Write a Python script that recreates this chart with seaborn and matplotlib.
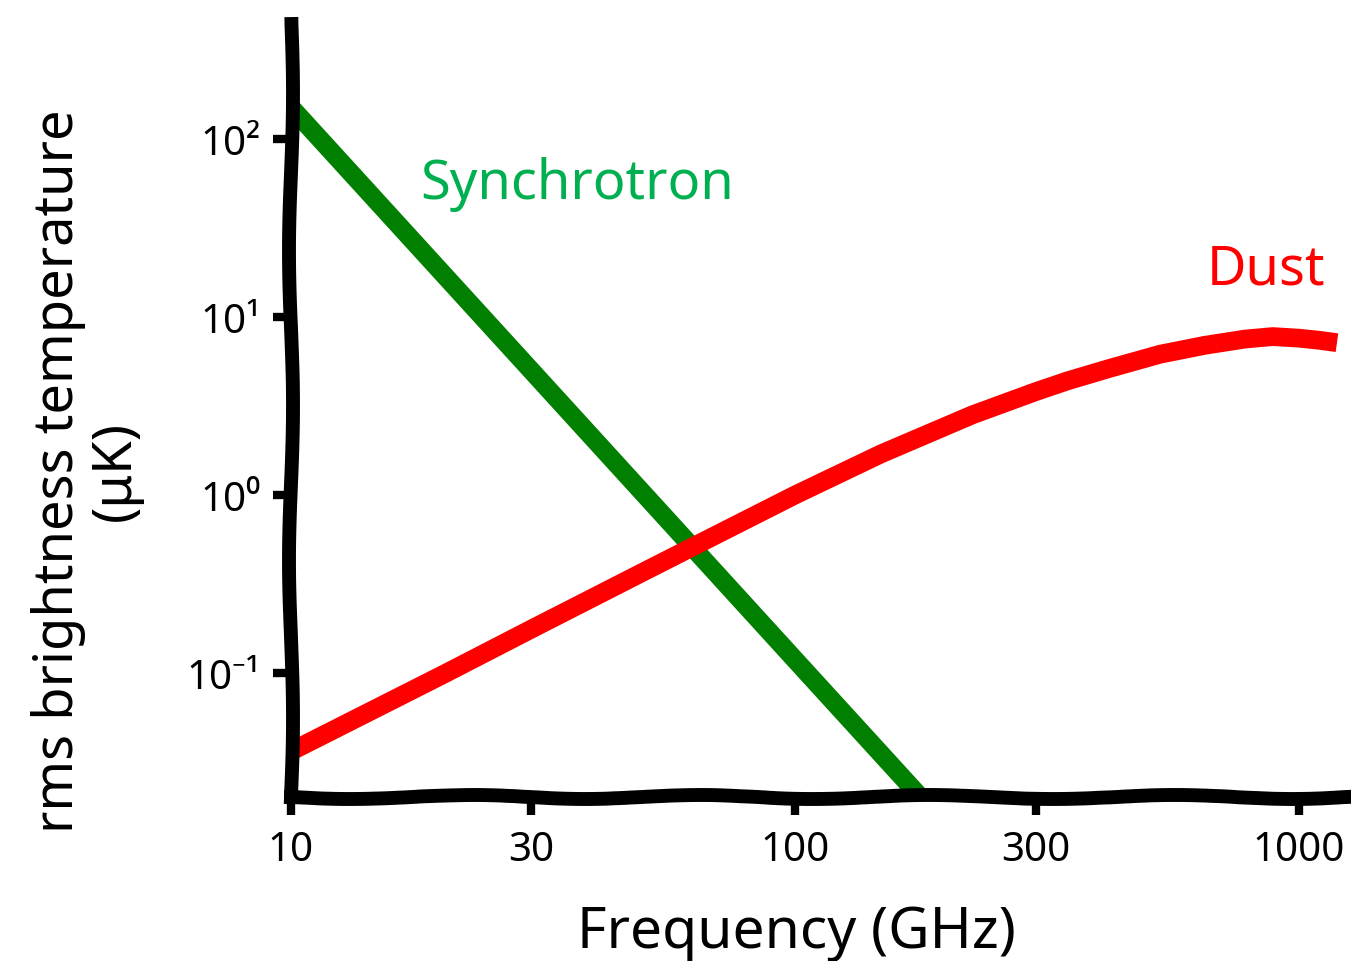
import matplotlib
matplotlib.use("Agg")
import matplotlib.pyplot as plt
import seaborn as sns
import pandas as pd

# Foreground spectra, rms brightness temperature in µK
sync_freq = [10, 30, 100, 200]
sync_temp = [150, 4.98, 0.119, 0.0139]

dust_freq = [10, 20, 30, 50, 70, 100, 148, 225, 300, 347, 420, 530, 650, 780, 887,
             1000, 1100, 1189]
dust_temp = [0.0364, 0.098, 0.177, 0.37, 0.60, 1.0, 1.70, 2.82, 3.8, 4.37, 5.13, 6.17,
             6.92, 7.5, 7.75, 7.59, 7.38, 7.16]

x_ticks = [10, 30, 100, 300, 1000]
x_tick_labels = ["10", "30", "100", "300", "1000"]
y_ticks = [0.1, 1, 10, 100]
y_tick_labels = ["10⁻¹", "10⁰", "10¹", "10²"]

sns.set_theme(style="white")
plt.rcParams["font.family"] = ["Noto Sans", "DejaVu Sans"]

fig = plt.figure(figsize=(13.51, 9.62), dpi=100)
ax = fig.add_axes([0.2154, 0.1705, 0.7836, 0.8035])

sync_df = pd.DataFrame({"freq": sync_freq, "temp": sync_temp})
dust_df = pd.DataFrame({"freq": dust_freq, "temp": dust_temp})

sns.lineplot(data=sync_df, x="freq", y="temp", color="#007f00", lw=13.5, ax=ax,
             solid_capstyle="butt", zorder=2)
sns.lineplot(data=dust_df, x="freq", y="temp", color="#ff0000", lw=13.5, ax=ax,
             solid_capstyle="butt", solid_joinstyle="round", zorder=3)

ax.set_xscale("log")
ax.set_yscale("log")
ax.set_xlim(10, 1260)
ax.set_ylim(0.0202, 440)

ax.set_xticks(x_ticks)
ax.set_xticklabels(x_tick_labels)
ax.set_yticks(y_ticks)
ax.set_yticklabels(y_tick_labels)
ax.minorticks_off()

ax.tick_params(axis="both", which="major", direction="out", length=13, width=6,
               color="black", labelsize=29, left=True, bottom=True,
               labelcolor="black")
ax.tick_params(axis="x", pad=11)
ax.tick_params(axis="y", pad=9)

for side in ("top", "right"):
    ax.spines[side].set_visible(False)
for side in ("left", "bottom"):
    sp = ax.spines[side]
    sp.set_linewidth(10)
    sp.set_color("black")
    sp.set_capstyle("projecting")
    sp.set_zorder(4)
ax.spines["bottom"].set_sketch_params(scale=2, length=260, randomness=2)
ax.spines["left"].set_sketch_params(scale=2, length=320, randomness=1.3)

ax.set_xlabel("Frequency (GHz)", fontsize=41, color="black")
ax.xaxis.set_label_coords(0.477, -0.138)
ax.set_ylabel("rms brightness temperature\n(μK)", fontsize=39, color="black",
              linespacing=1.05)
ax.yaxis.set_label_coords(-0.140, 0.423)

ax.text(0.1224, 0.794, "Synchrotron", transform=ax.transAxes, color="#00b050",
        fontsize=39, ha="left", va="center")
ax.text(0.977, 0.683, "Dust", transform=ax.transAxes, color="#ff0000",
        fontsize=39, ha="right", va="center")

ax.set_facecolor("white")
fig.patch.set_facecolor("white")
fig.savefig("out.png", dpi=100, facecolor="white")
